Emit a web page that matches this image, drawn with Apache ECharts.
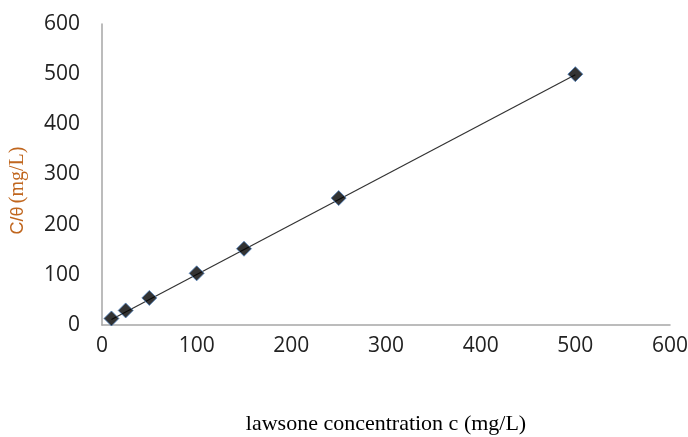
<!DOCTYPE html>
<html>
<head>
<meta charset="utf-8">
<script src="https://cdn.jsdelivr.net/npm/echarts@6/dist/echarts.min.js"></script>
<style>
html, body { margin: 0; padding: 0; background: #fff; }
#chart { width: 688px; height: 437px; }
</style>
</head>
<body>
<div id="chart"></div>
<script>
// lawsone concentration c (mg/L) vs C/θ (mg/L)
var concentration = [10, 25, 50, 100, 150, 250, 500];
var ratio = [13, 29, 54, 103, 152, 253, 500];
// trendline end points
var trendX = [10, 500];
var trendY = [11, 499];

var chart = echarts.init(document.getElementById('chart'));
chart.setOption({
    animation: false,
    grid: {
        left: 102,
        right: 18,
        top: 24,
        bottom: 112,
        outerBoundsMode: 'none'
    },
    xAxis: {
        type: 'value',
        min: 0,
        max: 600,
        interval: 100,
        name: 'lawsone concentration c (mg/L)',
        nameLocation: 'middle',
        nameGap: 88,
        nameTextStyle: {
            fontFamily: 'Liberation Serif',
            fontSize: 22,
            color: '#000'
        },
        axisLine: { lineStyle: { color: '#a6a6a6', width: 1.5 } },
        axisTick: { show: false },
        splitLine: { show: false },
        axisLabel: {
            fontFamily: 'Open Sans',
            fontSize: 21,
            color: '#222',
            margin: 11
        }
    },
    yAxis: {
        type: 'value',
        min: 0,
        max: 600,
        interval: 100,
        name: '{a|C/θ} {b|(mg/L)}',
        nameLocation: 'middle',
        nameGap: 74,
        nameRotate: 90,
        nameTextStyle: {
            color: '#c0661e',
            padding: [0, 32, 0, 0],
            rich: {
                a: { fontFamily: 'Liberation Sans', fontSize: 18, color: '#c0661e' },
                b: { fontFamily: 'Liberation Serif', fontSize: 20, color: '#c0661e' }
            }
        },
        axisLine: { show: true, lineStyle: { color: '#a6a6a6', width: 1.5 } },
        axisTick: { show: false },
        splitLine: { show: false },
        axisLabel: {
            fontFamily: 'Open Sans',
            fontSize: 21,
            color: '#222',
            margin: 22
        }
    },
    series: [
        {
            type: 'line',
            data: trendX.map(function (x, i) { return [x, trendY[i]]; }),
            symbol: 'none',
            lineStyle: { color: '#333', width: 1.2 },
            z: 1
        },
        {
            type: 'scatter',
            data: concentration.map(function (x, i) { return [x, ratio[i]]; }),
            symbol: 'diamond',
            symbolSize: 15,
            itemStyle: {
                color: '#000',
                borderColor: '#4f81bd',
                borderWidth: 1
            },
            z: 2
        }
    ]
});
</script>
</body>
</html>
